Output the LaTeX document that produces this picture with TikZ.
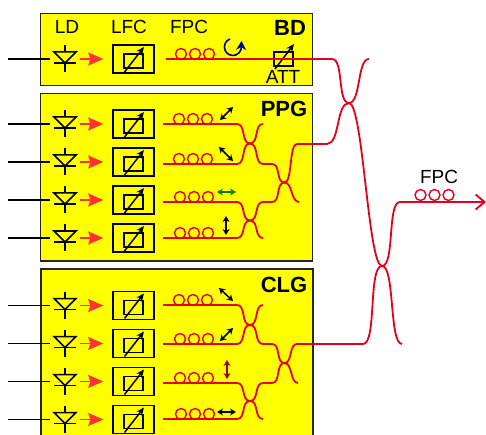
\documentclass[tikz,border=0pt]{standalone}
\usepackage{fontspec}
\setmainfont{Liberation Sans}
\usetikzlibrary{arrows.meta}
\definecolor{panelyellow}{RGB}{255,255,0}
\definecolor{fibrered}{HTML}{E2001A}
\definecolor{beamred}{HTML}{FF3333}
\definecolor{polgreen}{HTML}{008000}
\definecolor{polred}{HTML}{A00020}
\definecolor{polblue}{HTML}{0000A0}
\tikzset{
  panel/.style={draw=black!85, fill=panelyellow, line width=1.5pt, anchor=north west, inner sep=0pt},
  lbl/.style={font=\fontsize{19}{21}\selectfont, inner sep=0pt},
  title/.style={font=\fontsize{22}{24}\bfseries\selectfont, inner sep=0pt},
  fibre/.style={draw=fibrered, line width=1.8pt},
  sbend/.style={out=0, in=180, distance=#1},
  sbend/.default=9pt,
  loopc/.style={draw=fibrered, circle, line width=1.4pt, minimum size=11pt, inner sep=0pt},
  ldbox/.style={minimum width=29pt, minimum height=26pt, inner sep=0pt},
  lfcbox/.style={draw, line width=1.5pt, minimum width=41pt, minimum height=28pt, inner sep=0pt},
  tunebox/.style={draw, line width=1.5pt, minimum width=19pt, minimum height=14pt, inner sep=0pt},
  sym/.style={line width=1.5pt},
  beam/.style={draw=beamred, line width=1.5pt, -{Stealth[length=15pt, width=13pt, inset=2pt]}, shorten >=9pt},
  tune/.style={line width=1.5pt, -{Stealth[length=8pt, width=7pt]}},
  pol/.style={line width=1.5pt, {Stealth[length=6pt, width=7pt]}-{Stealth[length=6pt, width=7pt]}}
}
\begin{document}
\begin{tikzpicture}[x=1pt, y=-1pt]
  \clip (0,0) rectangle (486,435);

  % Paineis
  \node[panel, minimum width=272pt, minimum height=72pt] (bd) at (39.5,13) {};
  \node[panel, minimum width=272pt, minimum height=167pt] (ppg) at (39.5,93) {};
  \node[panel, minimum width=272pt, minimum height=180pt] (clg) at (40,268) {};

  % Rotulos
  \node[lbl] (tld) at (67,27) {LD};
  \node[lbl] (tlfc) at (129,27) {LFC};
  \node[lbl] (tfpc) at (189,27) {FPC};
  \node[lbl] (tatt) at (283,77) {ATT};
  \node[lbl] (tout) at (439,177) {FPC};
  \node[title] (tbd) at (290,28) {BD};
  \node[title] (tppg) at (284,109) {PPG};
  \node[title] (tclg) at (284,285) {CLG};

  % Linhas de laser
  \foreach \name/\y/\f/\fx/\lx in {bd/59/59/166/181, pa/124/124/163/179, pb/162/164/163/179, pc/200/202/163/180, pd/238/238/163/180,
                                   ca/305.5/305/163/179, cb/343.5/344/163/180, cc/381.5/383/163/180, cd/419.5/419/163/181} {
    \coordinate (in\name) at (8,\y);
    \node[ldbox] (ld\name) at (65,\y) {};
    \node[lfcbox] (lfc\name) at (133.5,\y) {};
    \node[tunebox] (tn\name) at (133.5,\y+2) {};
    \coordinate (fs\name) at (\fx,\f);
    \draw[line width=1.5pt] (in\name) -- (ld\name);
    \draw[sym] (65,\y-14) -- (65,\y-7);
    \draw[sym] (65,\y+4) -- (65,\y+13);
    \draw[sym] (54,\y+4) -- (76,\y+4);
    \draw[sym] (54,\y-7) -- (76,\y-7) -- (65,\y+4) -- cycle;
    \draw[beam] (ld\name) -- (lfc\name);
    \draw[tune] (124.5,\y+13) -- (144,\y-12);
    \foreach \k in {0,1,2} {
      \node[loopc] (fc\name\k) at (\lx+14*\k,\f-5) {};
    }
  }

  % Atenuador
  \node[tunebox] (att) at (283.5,59) {};
  \draw[tune] (275,69) -- (294,44);

  % Acopladores
  \coordinate (jpa) at (250,143.5);
  \coordinate (jpb) at (250,220.5);
  \coordinate (jpc) at (284.5,182.5);
  \coordinate (jca) at (250,325);
  \coordinate (jcb) at (250,401);
  \coordinate (jcc) at (284.5,363);
  \coordinate (jma) at (349,103);
  \coordinate (jmb) at (382,266);
  \coordinate (out) at (486,202);

  \draw[fibre] (fspa) -- (237,124) to[sbend] (jpa) to[sbend] (263,124);
  \draw[fibre] (fspb) -- (237,164) to[sbend] (jpa) to[sbend] (263,164) -- (272,164) to[sbend] (jpc) to[sbend=8pt] (297,144) -- (327,144) to[sbend=13pt] (jma);
  \draw[fibre] (fspc) -- (237,202) to[sbend] (jpb) to[sbend] (263,202) -- (272,202) to[sbend] (jpc) to[sbend=8pt] (299,202);
  \draw[fibre] (fspd) -- (237,238) to[sbend] (jpb) to[sbend] (263,238);

  \draw[fibre] (fsca) -- (237,305) to[sbend] (jca) to[sbend] (263,305);
  \draw[fibre] (fscb) -- (237,344) to[sbend] (jca) to[sbend] (263,344) -- (272,344) to[sbend] (jcc) to[sbend=8pt] (297,344) -- (363,344) to[sbend=14pt] (jmb);
  \draw[fibre] (fscc) -- (237,383) to[sbend] (jcb) to[sbend] (263,383) -- (272,383) to[sbend] (jcc) to[sbend=8pt] (298,383);
  \draw[fibre] (fscd) -- (237,419) to[sbend] (jcb) to[sbend] (263,419);

  \draw[fibre] (fsbd) -- (332,59) to[sbend=12pt] (jma) to[sbend=12pt] (369,59);
  \draw[fibre, line width=2.8pt] (301,59) -- (317,59);
  \draw[fibre] (jma) to[sbend=14pt] (jmb) to[sbend=13pt] (402,344);
  \draw[fibre, -{Straight Barb[length=9pt, width=15pt]}] (jmb) to[sbend=13pt] (400,202) -- (out);

  % Controlador de saida
  \foreach \k/\x in {0/420.5,1/434.5,2/448.5} {
    \node[loopc] (fo\k) at (\x,195) {};
  }

  % Setas de polarizacao
  \foreach \xa/\ya/\xb/\yb/\col in {220/120/233/107/black, 219/147/233/161/black, 217/192/236/192/polgreen, 226/216/226/235/black,
                                    219/288/233/301/black, 220/341/233/328/black, 227/360/227/379/polred, 217/412/236/412/black} {
    \draw[pol, draw=\col, fill=\col] (\xa,\ya) -- (\xb,\yb);
  }
  \draw[line width=1.6pt, draw=polblue, fill=none, -{Stealth[length=9pt, width=10pt, fill=polblue]}] (230,39) arc[start angle=110, end angle=345, radius=8.5pt] -- (241.5,41);
\end{tikzpicture}
\end{document}
